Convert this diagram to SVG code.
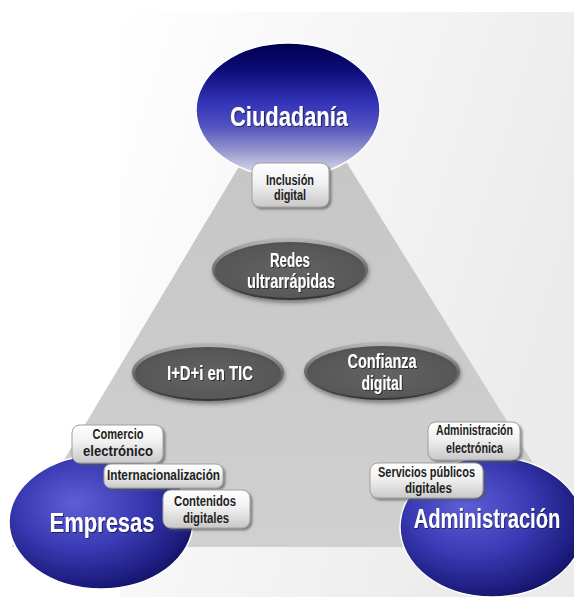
<svg xmlns="http://www.w3.org/2000/svg" width="574" height="597" viewBox="0 0 574 597">
<defs>
  <linearGradient id="gPanel" x1="0" y1="0" x2="1" y2="0.4">
    <stop offset="0" stop-color="#ffffff"/>
    <stop offset="1" stop-color="#ebebeb"/>
  </linearGradient>
  <linearGradient id="gTri" x1="0" y1="0" x2="0" y2="1">
    <stop offset="0" stop-color="#c4c4c4"/>
    <stop offset="1" stop-color="#d0d0d0"/>
  </linearGradient>
  <linearGradient id="gCiud" x1="0" y1="0" x2="0" y2="1">
    <stop offset="0" stop-color="#00004e"/>
    <stop offset="0.2" stop-color="#0b0b78"/>
    <stop offset="0.45" stop-color="#3434b8"/>
    <stop offset="0.62" stop-color="#5252c0"/>
    <stop offset="0.82" stop-color="#9c9cd0"/>
    <stop offset="1" stop-color="#e6e6f2"/>
  </linearGradient>
  <radialGradient id="gBlue" cx="0.42" cy="0.4" r="0.66" fx="0.35" fy="0.35">
    <stop offset="0" stop-color="#5e5ed6"/>
    <stop offset="0.5" stop-color="#3a3ab4"/>
    <stop offset="0.85" stop-color="#1d1d80"/>
    <stop offset="1" stop-color="#10105c"/>
  </radialGradient>
  <linearGradient id="gRim" x1="0" y1="0" x2="0" y2="1">
    <stop offset="0" stop-color="#b8b8b8"/>
    <stop offset="0.5" stop-color="#6e6e6e"/>
    <stop offset="1" stop-color="#333333"/>
  </linearGradient>
  <radialGradient id="gEll" cx="0.5" cy="0.55" r="0.6">
    <stop offset="0" stop-color="#636363"/>
    <stop offset="0.8" stop-color="#575757"/>
    <stop offset="1" stop-color="#4b4b4b"/>
  </radialGradient>
  <linearGradient id="gBox" x1="0" y1="0" x2="0" y2="1">
    <stop offset="0" stop-color="#ffffff"/>
    <stop offset="0.45" stop-color="#f1f1f1"/>
    <stop offset="1" stop-color="#c8c8c8"/>
  </linearGradient>
  <filter id="ts" x="-10%" y="-30%" width="120%" height="160%">
    <feDropShadow dx="1" dy="1" stdDeviation="0.6" flood-color="#000000" flood-opacity="0.55"/>
  </filter>
  <filter id="bs" x="-10%" y="-20%" width="125%" height="150%">
    <feDropShadow dx="2" dy="2" stdDeviation="1.2" flood-color="#555555" flood-opacity="0.65"/>
  </filter>
  <filter id="es" x="-10%" y="-20%" width="120%" height="150%">
    <feDropShadow dx="1" dy="3" stdDeviation="2" flood-color="#444444" flood-opacity="0.6"/>
  </filter>
</defs>
<style>
  text { font-family: "Liberation Sans", Arial, sans-serif; font-weight: bold; text-anchor: middle; }
  .big { font-size: 28px; fill: #ffffff; }
  .mid { font-size: 20px; fill: #ffffff; }
  .small { font-size: 14px; fill: #1e1e1e; }
  .circle { stroke: #ffffff; stroke-width: 1.5; }
  .rim { fill: url(#gRim); }
  .core { fill: url(#gEll); }
  .box { fill: url(#gBox); stroke: #a0a0a0; stroke-width: 1; }
</style>

<g id="background">
  <rect x="0" y="0" width="574" height="597" fill="#ffffff"/>
  <rect x="120" y="12" width="454" height="585" fill="url(#gPanel)"/>
  <polygon points="293,76 12,547 585,547" fill="url(#gTri)"/>
</g>

<g id="connectors"></g>

<g id="ciudadania">
  <ellipse class="circle" cx="288" cy="110" rx="92" ry="67" fill="url(#gCiud)"/>
  <text class="big" x="289" y="126" textLength="118" lengthAdjust="spacingAndGlyphs" filter="url(#ts)">Ciudadanía</text>
</g>

<g id="empresas">
  <ellipse class="circle" cx="101" cy="522" rx="92" ry="67" fill="url(#gBlue)"/>
  <text class="big" x="102" y="532" textLength="105" lengthAdjust="spacingAndGlyphs" filter="url(#ts)">Empresas</text>
</g>

<g id="administracion">
  <ellipse class="circle" cx="492" cy="527" rx="92" ry="70" fill="url(#gBlue)"/>
  <text class="big" transform="translate(487,528) scale(0.72,1)" x="0" y="0" filter="url(#ts)">Administración</text>
</g>

<g id="redes">
  <g filter="url(#es)">
    <ellipse class="rim" cx="290" cy="269" rx="78" ry="31"/>
  </g>
  <ellipse class="core" cx="290" cy="270" rx="75" ry="28"/>
  <g filter="url(#ts)">
    <text class="mid" x="290" y="267" textLength="40" lengthAdjust="spacingAndGlyphs">Redes</text>
    <text class="mid" x="291" y="288" textLength="88" lengthAdjust="spacingAndGlyphs">ultrarrápidas</text>
  </g>
</g>

<g id="idi">
  <g filter="url(#es)">
    <ellipse class="rim" cx="208" cy="372" rx="76" ry="29"/>
  </g>
  <ellipse class="core" cx="208" cy="373" rx="73" ry="26"/>
  <text class="mid" x="210" y="380" textLength="86" lengthAdjust="spacingAndGlyphs" filter="url(#ts)">I+D+i en TIC</text>
</g>

<g id="confianza">
  <g filter="url(#es)">
    <ellipse class="rim" cx="382" cy="371" rx="78" ry="29"/>
  </g>
  <ellipse class="core" cx="382" cy="372" rx="75" ry="26"/>
  <g filter="url(#ts)">
    <text class="mid" x="382" y="368" textLength="69" lengthAdjust="spacingAndGlyphs">Confianza</text>
    <text class="mid" x="382" y="390" textLength="41" lengthAdjust="spacingAndGlyphs">digital</text>
  </g>
</g>

<g id="inclusion">
  <rect class="box" x="252" y="163" width="77" height="44" rx="8" filter="url(#bs)"/>
  <text class="small" x="290" y="185" textLength="48" lengthAdjust="spacingAndGlyphs">Inclusión</text>
  <text class="small" x="290" y="200" textLength="32" lengthAdjust="spacingAndGlyphs">digital</text>
</g>

<g id="comercio">
  <rect class="box" x="72" y="425" width="91" height="38" rx="8" filter="url(#bs)"/>
  <text class="small" x="118" y="439" textLength="51" lengthAdjust="spacingAndGlyphs">Comercio</text>
  <text class="small" x="118" y="456" textLength="70" lengthAdjust="spacingAndGlyphs">electrónico</text>
</g>

<g id="internacionalizacion">
  <rect class="box" x="104" y="464" width="119" height="24" rx="7" filter="url(#bs)"/>
  <text class="small" x="163.5" y="480" textLength="113" lengthAdjust="spacingAndGlyphs">Internacionalización</text>
</g>

<g id="contenidos">
  <rect class="box" x="163" y="490" width="87" height="38" rx="8" filter="url(#bs)"/>
  <text class="small" x="205" y="506" textLength="62" lengthAdjust="spacingAndGlyphs">Contenidos</text>
  <text class="small" x="206" y="523" textLength="46" lengthAdjust="spacingAndGlyphs">digitales</text>
</g>

<g id="admin-electronica">
  <rect class="box" x="428" y="422" width="92" height="38" rx="8" filter="url(#bs)"/>
  <text class="small" x="474.5" y="435" textLength="77" lengthAdjust="spacingAndGlyphs">Administración</text>
  <text class="small" x="474.5" y="453" textLength="57" lengthAdjust="spacingAndGlyphs">electrónica</text>
</g>

<g id="servicios">
  <rect class="box" x="370" y="463" width="113" height="35" rx="8" filter="url(#bs)"/>
  <text class="small" x="426.5" y="477" textLength="97" lengthAdjust="spacingAndGlyphs">Servicios públicos</text>
  <text class="small" x="428.5" y="493" textLength="47" lengthAdjust="spacingAndGlyphs">digitales</text>
</g>
</svg>
